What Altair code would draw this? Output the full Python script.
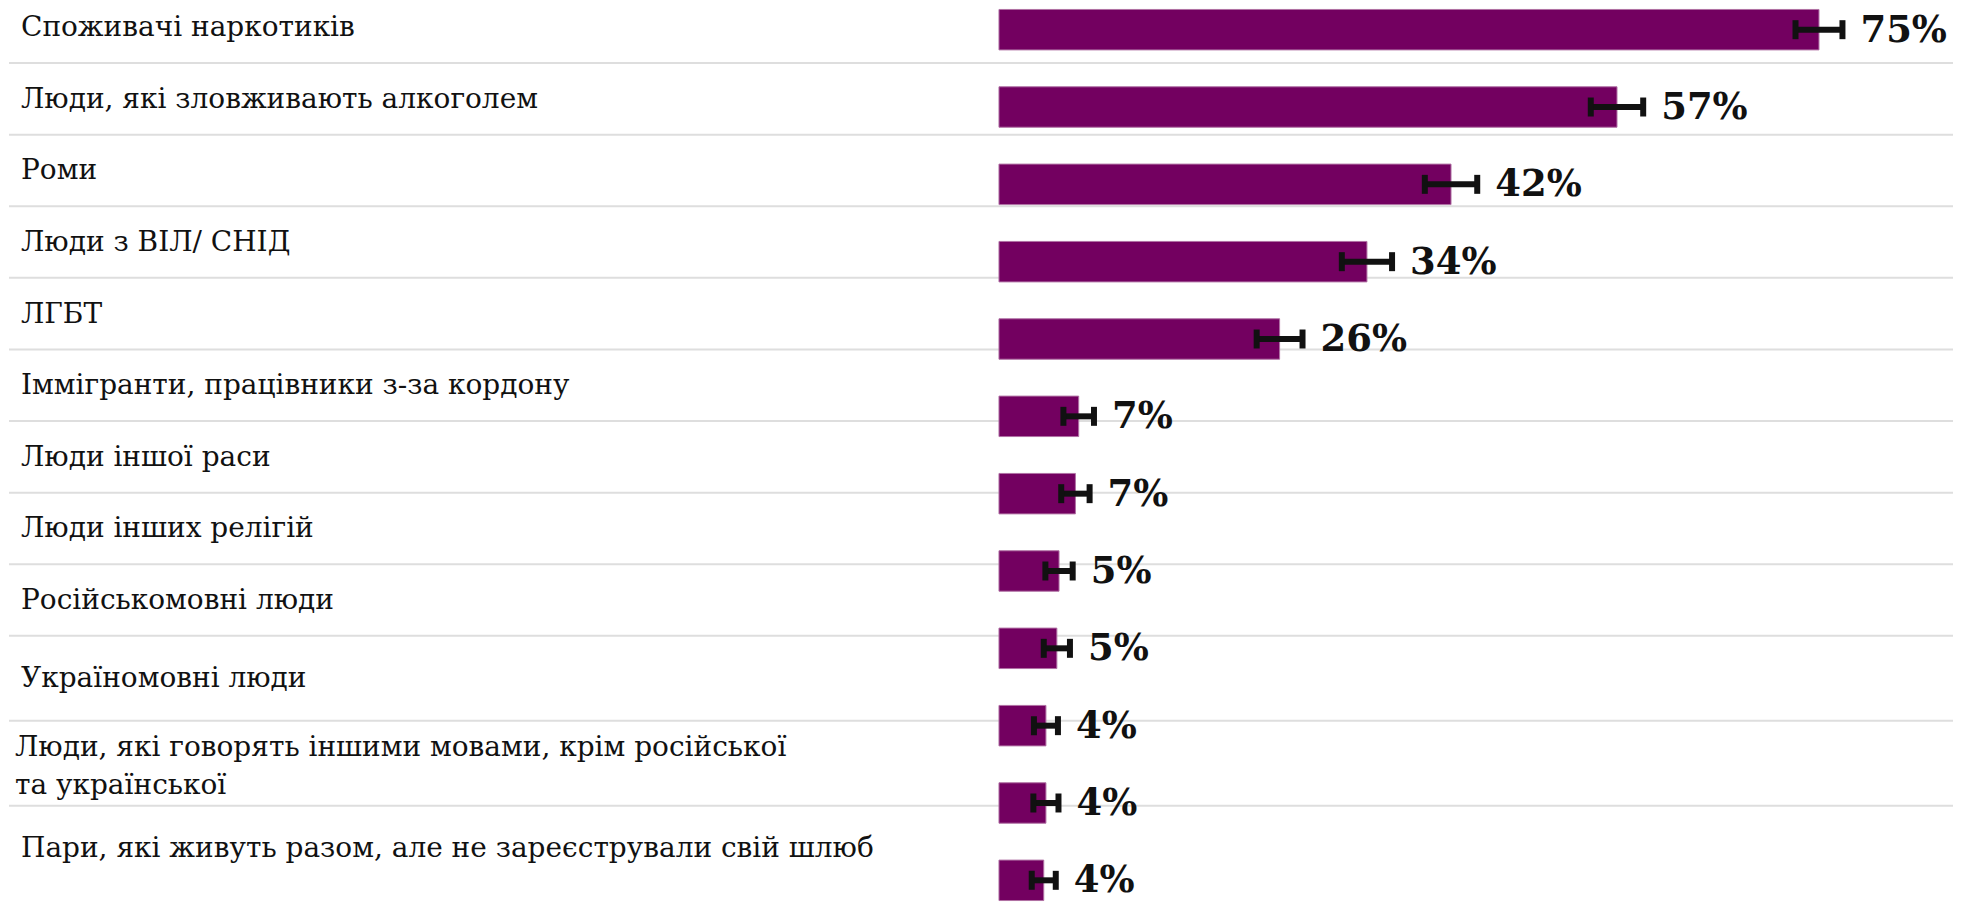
import altair as alt
import pandas as pd

categories = [
    "Споживачі наркотиків",
    "Люди, які зловживають алкоголем",
    "Роми",
    "Люди з ВІЛ/ СНІД",
    "ЛГБТ",
    "Іммігранти, працівники з-за кордону",
    "Люди іншої раси",
    "Люди інших релігій",
    "Російськомовні люди",
    "Україномовні люди",
    "Люди, які говорять іншими мовами, крім російської\nта української",
    "Пари, які живуть разом, але не зареєстрували свій шлюб",
]
values = [75.1, 56.6, 41.4, 33.7, 25.7, 7.3, 7.0, 5.5, 5.3, 4.3, 4.3, 4.1]
errors = [2.15, 2.4, 2.4, 2.3, 2.1, 1.4, 1.3, 1.25, 1.2, 1.1, 1.15, 1.1]
shown = ["75%", "57%", "42%", "34%", "26%", "7%", "7%", "5%", "5%", "4%", "4%", "4%"]

W, H = 1946, 892
LINE_H = 38

df = pd.DataFrame({
    "cat": categories,
    "value": values,
    "err": errors,
    "shown": shown,
})
df["lo"] = df["value"] - df["err"]
df["hi"] = df["value"] + df["err"]
df["row"] = range(len(categories))
df["mid"] = df["row"] + 0.5
df["lines"] = df["cat"].str.count("\n") + 1

bounds = pd.DataFrame({"b": list(range(1, len(categories)))})

row_scale = alt.Scale(domain=[0, 9, 12], range=[-18, 627, 882], nice=False, zero=False)
x_scale = alt.Scale(domain=[0, 100], range=[991, 991 + 1093], nice=False, zero=False)
y_band = alt.Scale(domain=categories, paddingInner=0.477, paddingOuter=0)

label_style = dict(align="left", baseline="middle", font="DejaVu Serif", fontSize=28,
                   color="#111111", lineBreak="\n", lineHeight=LINE_H)

seps = alt.Chart(bounds).mark_rule(color="#dedede", strokeWidth=2).encode(
    y=alt.Y("b:Q", scale=row_scale, axis=None)
)
labels_one = alt.Chart(df).transform_filter("datum.lines == 1").mark_text(
    dy=1, **label_style
).encode(
    x=alt.value(12),
    y=alt.Y("mid:Q", scale=row_scale, axis=None),
    text="cat:N",
)
labels_two = alt.Chart(df).transform_filter("datum.lines == 2").mark_text(
    dy=4 - LINE_H / 2, **label_style
).encode(
    x=alt.value(6),
    y=alt.Y("mid:Q", scale=row_scale, axis=None),
    text="cat:N",
)
left = alt.layer(seps, labels_one, labels_two)

bars = alt.Chart(df).mark_bar(color="#730060", stroke="#b070a4", strokeWidth=1).encode(
    x=alt.X("value:Q", scale=x_scale, axis=None),
    y=alt.Y("cat:N", scale=y_band, axis=None, sort=categories),
)
err_line = alt.Chart(df).mark_rule(color="#111111", strokeWidth=6).encode(
    x=alt.X("lo:Q", scale=x_scale, axis=None),
    x2="hi:Q",
    y=alt.Y("cat:N", scale=y_band, axis=None, sort=categories),
)
cap_lo = alt.Chart(df).mark_tick(color="#111111", size=19, thickness=6, opacity=1).encode(
    x=alt.X("lo:Q", scale=x_scale, axis=None),
    y=alt.Y("cat:N", scale=y_band, axis=None, sort=categories),
)
cap_hi = alt.Chart(df).mark_tick(color="#111111", size=19, thickness=6, opacity=1).encode(
    x=alt.X("hi:Q", scale=x_scale, axis=None),
    y=alt.Y("cat:N", scale=y_band, axis=None, sort=categories),
)
vals = alt.Chart(df).mark_text(
    align="left", baseline="middle", font="DejaVu Serif", fontWeight="bold",
    fontSize=37, color="#111111", dx=18, dy=1
).encode(
    x=alt.X("hi:Q", scale=x_scale, axis=None),
    y=alt.Y("cat:N", scale=y_band, axis=None, sort=categories),
    text="shown:N",
)
right = alt.layer(bars, err_line, cap_lo, cap_hi, vals)

chart = alt.layer(left, right).resolve_scale(y="independent", x="independent").properties(
    width=W, height=H, padding=0, background="white"
).configure_view(stroke=None)

chart.save("out.html", embed_options={"renderer": "svg", "actions": False})
